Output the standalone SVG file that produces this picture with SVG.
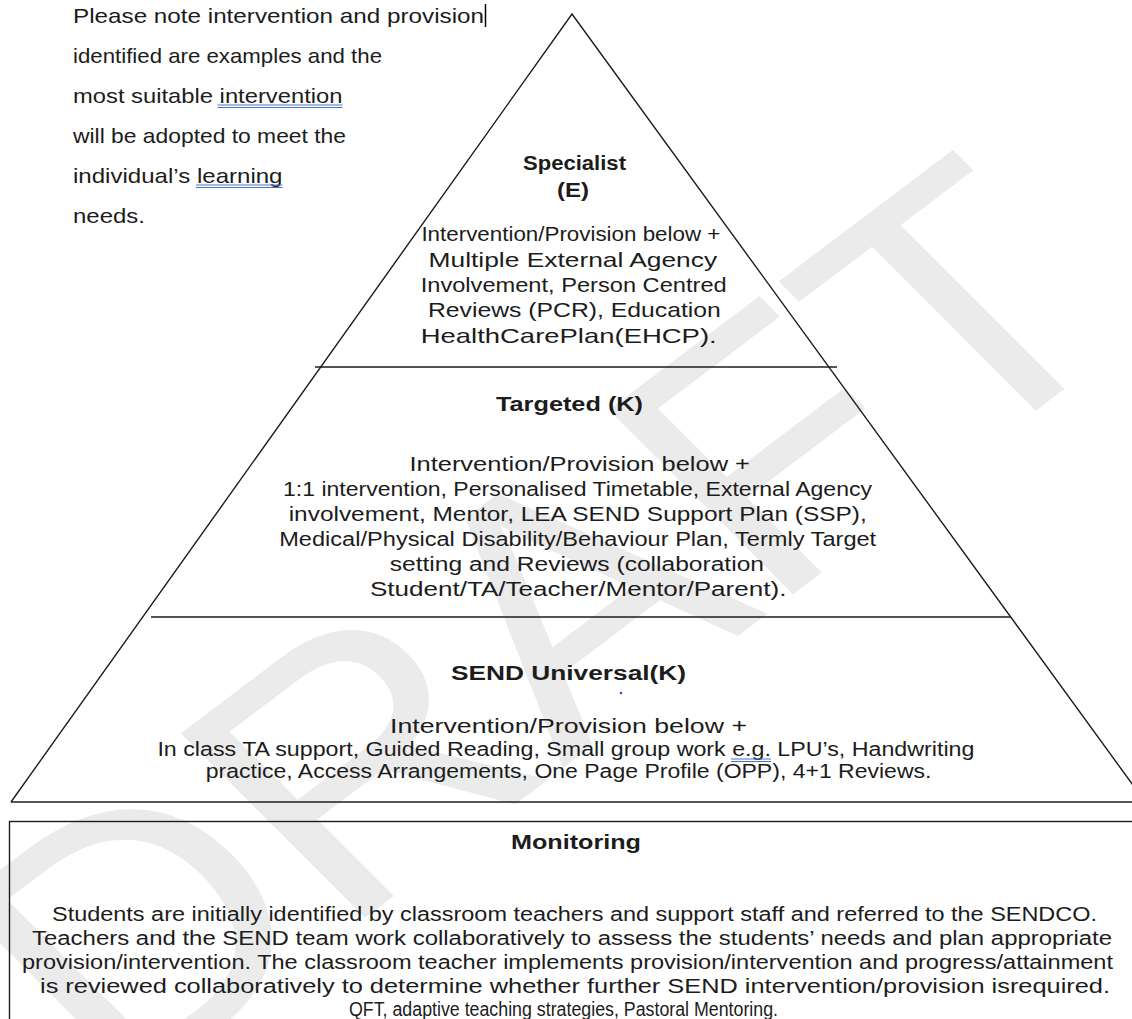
<svg xmlns="http://www.w3.org/2000/svg" width="1132" height="1019" viewBox="0 0 1132 1019">
<style>
  .ln { stroke: #1c1c1c; stroke-width: 1.4; fill: none; }
  .t { font-family: "Liberation Sans", Arial, sans-serif; fill: #1c1c1c; }
  .b { font-weight: bold; }
  .n { font-size: 21px; }
  .s { font-size: 21px; }
  .g { font-size: 20px; }
  .m { font-size: 20px; }
  .ul { stroke: #4a72c8; stroke-width: 1; fill: none; }
  .wm { font-family: "Liberation Sans", Arial, sans-serif; font-size: 355px; fill: #ebebeb; }
</style>
<rect width="1132" height="1019" fill="#ffffff"/>

<g id="watermark" transform="translate(535,621) scale(1.15,1) rotate(-41)">
  <text class="wm" x="0" y="127" text-anchor="middle">DRAFT</text>
</g>

<g id="pyramid">
  <polyline class="ln" points="11,802 572,14 1146,803"/>
  <line class="ln" x1="11" y1="802" x2="1140" y2="802"/>
</g>

<g id="connectors">
  <line class="ln" x1="315" y1="367" x2="837" y2="367"/>
  <line class="ln" x1="151" y1="617" x2="1011" y2="617"/>
</g>

<g id="note">
  <text class="t n" x="73" y="22.7" textLength="411" lengthAdjust="spacingAndGlyphs">Please note intervention and provision</text>
  <line x1="485.5" y1="4" x2="485.5" y2="27" stroke="#000" stroke-width="1.5"/>
  <text class="t n" x="73" y="63.3" textLength="309" lengthAdjust="spacingAndGlyphs">identified are examples and the</text>
  <text class="t n" x="73" y="103.3" textLength="269.5" lengthAdjust="spacingAndGlyphs">most suitable intervention</text>
  <path class="ul" d="M217.5,105 H342.5 M217.5,107.5 H342.5"/>
  <text class="t n" x="73" y="143.3" textLength="273" lengthAdjust="spacingAndGlyphs">will be adopted to meet the</text>
  <text class="t n" x="73" y="183.3" textLength="209.5" lengthAdjust="spacingAndGlyphs">individual’s learning</text>
  <path class="ul" d="M196,185 H282.5 M196,187.5 H282.5"/>
  <text class="t n" x="73" y="223.3" textLength="72" lengthAdjust="spacingAndGlyphs">needs.</text>
</g>

<g id="tier-specialist">
  <text class="t b" font-size="20" x="523" y="170" textLength="103" lengthAdjust="spacingAndGlyphs">Specialist</text>
  <text class="t b" font-size="20" x="557" y="197.3" textLength="32" lengthAdjust="spacingAndGlyphs">(E)</text>
  <text class="t s" x="421.4" y="241" textLength="299" lengthAdjust="spacingAndGlyphs">Intervention/Provision below +</text>
  <text class="t s" x="428.6" y="266.7" textLength="288.5" lengthAdjust="spacingAndGlyphs">Multiple External Agency</text>
  <text class="t s" x="420.7" y="291.7" textLength="306" lengthAdjust="spacingAndGlyphs">Involvement, Person Centred</text>
  <text class="t s" x="427.9" y="317.3" textLength="293" lengthAdjust="spacingAndGlyphs">Reviews (PCR), Education</text>
  <text class="t s" x="420.7" y="342.7" textLength="296" lengthAdjust="spacingAndGlyphs">HealthCarePlan(EHCP).</text>
</g>

<g id="tier-targeted">
  <text class="t b" font-size="20" x="496" y="410.7" textLength="147" lengthAdjust="spacingAndGlyphs">Targeted (K)</text>
  <text class="t g" x="409.4" y="470.7" textLength="340.6" lengthAdjust="spacingAndGlyphs">Intervention/Provision below +</text>
  <text class="t g" x="283" y="495.7" textLength="589" lengthAdjust="spacingAndGlyphs">1:1 intervention, Personalised Timetable, External Agency</text>
  <text class="t g" x="288.7" y="520.7" textLength="578" lengthAdjust="spacingAndGlyphs">involvement, Mentor, LEA SEND Support Plan (SSP),</text>
  <text class="t g" x="279.2" y="545.7" textLength="597" lengthAdjust="spacingAndGlyphs">Medical/Physical Disability/Behaviour Plan, Termly Target</text>
  <text class="t g" x="389.7" y="570.7" textLength="374.3" lengthAdjust="spacingAndGlyphs">setting and Reviews (collaboration</text>
  <text class="t g" x="370" y="595.7" textLength="416.4" lengthAdjust="spacingAndGlyphs">Student/TA/Teacher/Mentor/Parent).</text>
</g>

<g id="tier-universal">
  <text class="t b" font-size="20" x="451" y="680" textLength="235" lengthAdjust="spacingAndGlyphs">SEND Universal(K)</text>
  <circle cx="621" cy="693" r="1.3" fill="#3050d0"/>
  <text class="t g" x="390" y="732.7" textLength="357" lengthAdjust="spacingAndGlyphs">Intervention/Provision below +</text>
  <text class="t g" x="157.4" y="756" textLength="817" lengthAdjust="spacingAndGlyphs">In class TA support, Guided Reading, Small group work e.g. LPU’s, Handwriting</text>
  <path class="ul" d="M731,759 H771 M731,761.5 H771"/>
  <text class="t g" x="205.8" y="778.3" textLength="725.6" lengthAdjust="spacingAndGlyphs">practice, Access Arrangements, One Page Profile (OPP), 4+1 Reviews.</text>
</g>

<g id="monitoring">
  <rect class="ln" x="9.5" y="821.5" width="1140" height="220"/>
  <text class="t b" font-size="20" x="511" y="849" textLength="130" lengthAdjust="spacingAndGlyphs">Monitoring</text>
  <text class="t m" x="52" y="921" textLength="1045" lengthAdjust="spacingAndGlyphs">Students are initially identified by classroom teachers and support staff and referred to the SENDCO.</text>
  <text class="t m" x="32" y="945" textLength="1080" lengthAdjust="spacingAndGlyphs">Teachers and the SEND team work collaboratively to assess the students’ needs and plan appropriate</text>
  <text class="t m" x="22" y="969" textLength="1091" lengthAdjust="spacingAndGlyphs">provision/intervention. The classroom teacher implements provision/intervention and progress/attainment</text>
  <text class="t m" x="40" y="993" textLength="1070" lengthAdjust="spacingAndGlyphs">is reviewed collaboratively to determine whether further SEND intervention/provision isrequired.</text>
  <text class="t m" x="349" y="1016" textLength="429" lengthAdjust="spacingAndGlyphs">QFT, adaptive teaching strategies, Pastoral Mentoring.</text>
</g>
</svg>
